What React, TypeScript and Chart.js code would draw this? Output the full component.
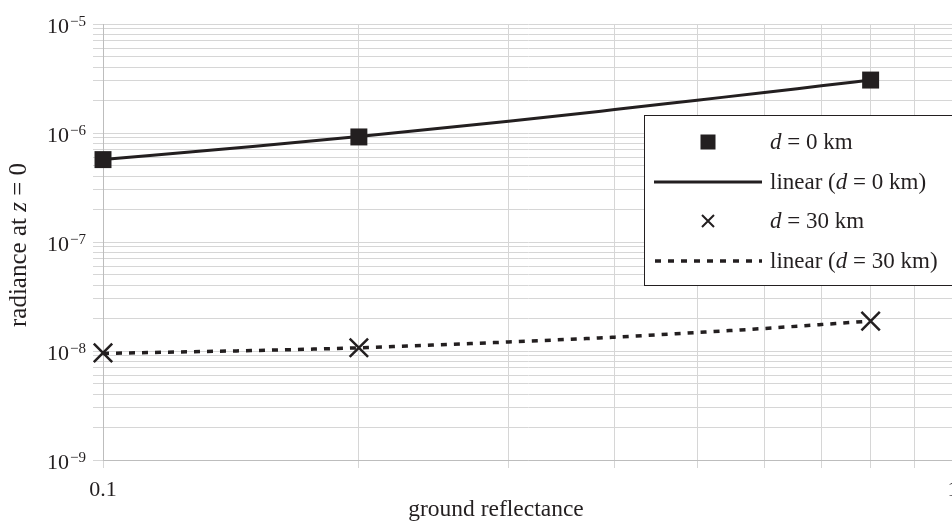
import React, { useEffect, useRef } from 'react';
import { Chart, registerables } from 'chart.js';

Chart.register(...registerables);

// ---- data ----
const xReflectance = [0.1, 0.2, 0.8];
const radianceD0 = [5.7e-7, 9.2e-7, 3.06e-6];
const radianceD30 = [9.6e-9, 1.07e-8, 1.88e-8];
const trendX = [0.1, 0.15, 0.2, 0.3, 0.4, 0.5, 0.6, 0.7, 0.8];
const trendD0 = [5.7e-7, 7.5e-7, 9.3e-7, 1.28e-6, 1.64e-6, 2.0e-6, 2.35e-6, 2.71e-6, 3.06e-6];
const trendD30 = [9.5e-9, 1.01e-8, 1.07e-8, 1.21e-8, 1.34e-8, 1.48e-8, 1.61e-8, 1.75e-8, 1.88e-8];
const yMajorExponents = [-9, -8, -7, -6, -5];
const yExponentLabels = ['\u22129', '\u22128', '\u22127', '\u22126', '\u22125'];
const gridMantissas = [1, 2, 3, 4, 5, 6, 7, 8, 9];
const xGridTicks = [0.1, 0.2, 0.3, 0.4, 0.5, 0.6, 0.7, 0.8, 0.9, 1];
const xLabeledTicks = [0.1, 1];
const xTickText = ['0.1', '1'];

type Seg = { t: string; i?: boolean };
const legendTexts: Seg[][] = [
  [{ t: 'd', i: true }, { t: ' = 0 km' }],
  [{ t: 'linear (' }, { t: 'd', i: true }, { t: ' = 0 km)' }],
  [{ t: 'd', i: true }, { t: ' = 30 km' }],
  [{ t: 'linear (' }, { t: 'd', i: true }, { t: ' = 30 km)' }],
];
const yTitle: Seg[] = [{ t: 'radiance at ' }, { t: 'z', i: true }, { t: ' = 0' }];
const xTitle: Seg[] = [{ t: 'ground reflectance' }];

const INK = '#231f20';
const GRID = '#d6d6d6';
const AXIS = '#bdbdbd';
const FAMILY = "'Liberation Serif', 'Times New Roman', 'DejaVu Serif', serif";

function font(size: number, italic?: boolean) {
  return `${italic ? 'italic ' : ''}${size}px ${FAMILY}`;
}

function richWidth(ctx: CanvasRenderingContext2D, segs: Seg[], size: number) {
  let w = 0;
  for (const s of segs) {
    ctx.font = font(size, s.i);
    w += ctx.measureText(s.t).width;
  }
  return w;
}

function drawRich(ctx: CanvasRenderingContext2D, segs: Seg[], x: number, y: number, size: number) {
  let cx = x;
  for (const s of segs) {
    ctx.font = font(size, s.i);
    ctx.fillText(s.t, cx, y);
    cx += ctx.measureText(s.t).width;
  }
}

const overlayPlugin = {
  id: 'overlay',
  afterDraw(chart: any) {
    const ctx: CanvasRenderingContext2D = chart.ctx;
    const ys = chart.scales.y;
    ctx.save();
    ctx.fillStyle = INK;
    ctx.textAlign = 'left';
    ctx.textBaseline = 'alphabetic';

    // y tick labels 10^n
    yMajorExponents.forEach((e, idx) => {
      const py = ys.getPixelForValue(Math.pow(10, e));
      ctx.font = font(22);
      const w1 = ctx.measureText('10').width;
      ctx.font = font(15);
      const w2 = ctx.measureText(yExponentLabels[idx]).width;
      const x0 = 86 - w1 - w2 - 1;
      ctx.font = font(22);
      ctx.fillText('10', x0, py + 9);
      ctx.font = font(15);
      ctx.fillText(yExponentLabels[idx], x0 + w1 + 1, py + 2);
    });

    // y title
    ctx.save();
    ctx.translate(26, 245);
    ctx.rotate(-Math.PI / 2);
    const tw = richWidth(ctx, yTitle, 25);
    drawRich(ctx, yTitle, -tw / 2, 0, 25);
    ctx.restore();

    // x title
    const xw = richWidth(ctx, xTitle, 23.5);
    drawRich(ctx, xTitle, 496 - xw / 2, 516, 23.5);

    // legend
    const bx = 644.5, by = 115.5, bw = 400, bh = 170;
    ctx.fillStyle = '#ffffff';
    ctx.fillRect(bx, by, bw, bh);
    ctx.strokeStyle = INK;
    ctx.lineWidth = 1;
    ctx.strokeRect(bx, by, bw, bh);

    const rows = [142, 182, 221, 261];
    const symX = 708;
    ctx.fillStyle = INK;
    ctx.fillRect(symX - 7.5, rows[0] - 7.5, 15, 15);
    ctx.strokeStyle = INK;
    ctx.lineWidth = 3;
    ctx.beginPath();
    ctx.moveTo(654, rows[1]);
    ctx.lineTo(762, rows[1]);
    ctx.stroke();
    ctx.lineWidth = 2;
    ctx.beginPath();
    ctx.moveTo(symX - 6, rows[2] - 6);
    ctx.lineTo(symX + 6, rows[2] + 6);
    ctx.moveTo(symX + 6, rows[2] - 6);
    ctx.lineTo(symX - 6, rows[2] + 6);
    ctx.stroke();
    ctx.lineWidth = 3.5;
    ctx.setLineDash([6, 7]);
    ctx.beginPath();
    ctx.moveTo(655, rows[3]);
    ctx.lineTo(762, rows[3]);
    ctx.stroke();
    ctx.setLineDash([]);

    ctx.fillStyle = INK;
    legendTexts.forEach((segs, i) => {
      drawRich(ctx, segs, 770, rows[i] + 7, 23);
    });
    ctx.restore();
  },
};

export default function App() {
  const canvasRef = useRef<HTMLCanvasElement | null>(null);

  useEffect(() => {
    const canvas = canvasRef.current;
    if (!canvas) return;
    const pts = (xs: number[], ys: number[]) => xs.map((x, i) => ({ x, y: ys[i] }));
    const yGridTicks: number[] = [];
    yMajorExponents.forEach((e) => {
      gridMantissas.forEach((m) => {
        const v = m * Math.pow(10, e);
        if (v <= 1.0000001e-5) yGridTicks.push(v);
      });
    });

    const chart = new Chart(canvas, {
      type: 'scatter',
      data: {
        datasets: [
          {
            label: 'd = 0 km',
            data: pts(xReflectance, radianceD0),
            pointStyle: 'rect',
            pointRadius: 12,
            pointHoverRadius: 12,
            backgroundColor: INK,
            borderColor: INK,
            pointBorderWidth: 0,
            showLine: false,
            clip: false,
          },
          {
            label: 'd = 30 km',
            data: pts(xReflectance, radianceD30),
            pointStyle: 'crossRot',
            pointRadius: 13,
            pointHoverRadius: 13,
            borderColor: INK,
            backgroundColor: INK,
            pointBorderWidth: 2.5,
            showLine: false,
            clip: false,
          },
          {
            label: 'linear (d = 0 km)',
            data: pts(trendX, trendD0),
            showLine: true,
            borderColor: INK,
            borderWidth: 3,
            pointRadius: 0,
            cubicInterpolationMode: 'monotone',
            clip: false,
          },
          {
            label: 'linear (d = 30 km)',
            data: pts(trendX, trendD30),
            showLine: true,
            borderColor: INK,
            borderWidth: 3.5,
            borderDash: [6, 7],
            pointRadius: 0,
            cubicInterpolationMode: 'monotone',
            clip: false,
          },
        ],
      },
      options: {
        animation: false,
        responsive: false,
        devicePixelRatio: 1,
        events: [],
        layout: { padding: { left: 0, top: 24, right: 27, bottom: 0 } },
        plugins: {
          legend: { display: false },
          tooltip: { enabled: false },
          title: { display: false },
        },
        scales: {
          x: {
            type: 'logarithmic',
            min: 0.1,
            max: 1,
            grid: { color: GRID, lineWidth: 1, drawTicks: true, tickLength: 8, tickColor: GRID },
            border: { color: AXIS, width: 1 },
            ticks: {
              autoSkip: false,
              maxRotation: 0,
              padding: 9,
              color: INK,
              font: { family: FAMILY, size: 22 },
              callback: (v: any) => {
                const idx = xLabeledTicks.findIndex((t) => Math.abs(t - Number(v)) < 1e-9);
                return idx >= 0 ? xTickText[idx] : '';
              },
            },
            afterBuildTicks: (scale: any) => {
              scale.ticks = xGridTicks.map((v) => ({ value: v }));
            },
            afterFit: (scale: any) => {
              scale.height = 62;
            },
          },
          y: {
            type: 'logarithmic',
            min: 1e-9,
            max: 1e-5,
            grid: { color: GRID, lineWidth: 1, drawTicks: true, tickLength: 10, tickColor: GRID },
            border: { color: AXIS, width: 1 },
            ticks: { display: false, autoSkip: false },
            afterBuildTicks: (scale: any) => {
              scale.ticks = yGridTicks.map((v) => ({ value: v }));
            },
            afterFit: (scale: any) => {
              scale.width = 103;
            },
          },
        },
      },
      plugins: [overlayPlugin],
    } as any);

    return () => chart.destroy();
  }, []);

  return (
    <div style={{ position: 'fixed', left: 0, top: 0, width: 952, height: 522, overflow: 'hidden', background: '#fff' }}>
      <canvas ref={canvasRef} width={980} height={522} style={{ display: 'block', width: 980, height: 522 }} />
    </div>
  );
}
